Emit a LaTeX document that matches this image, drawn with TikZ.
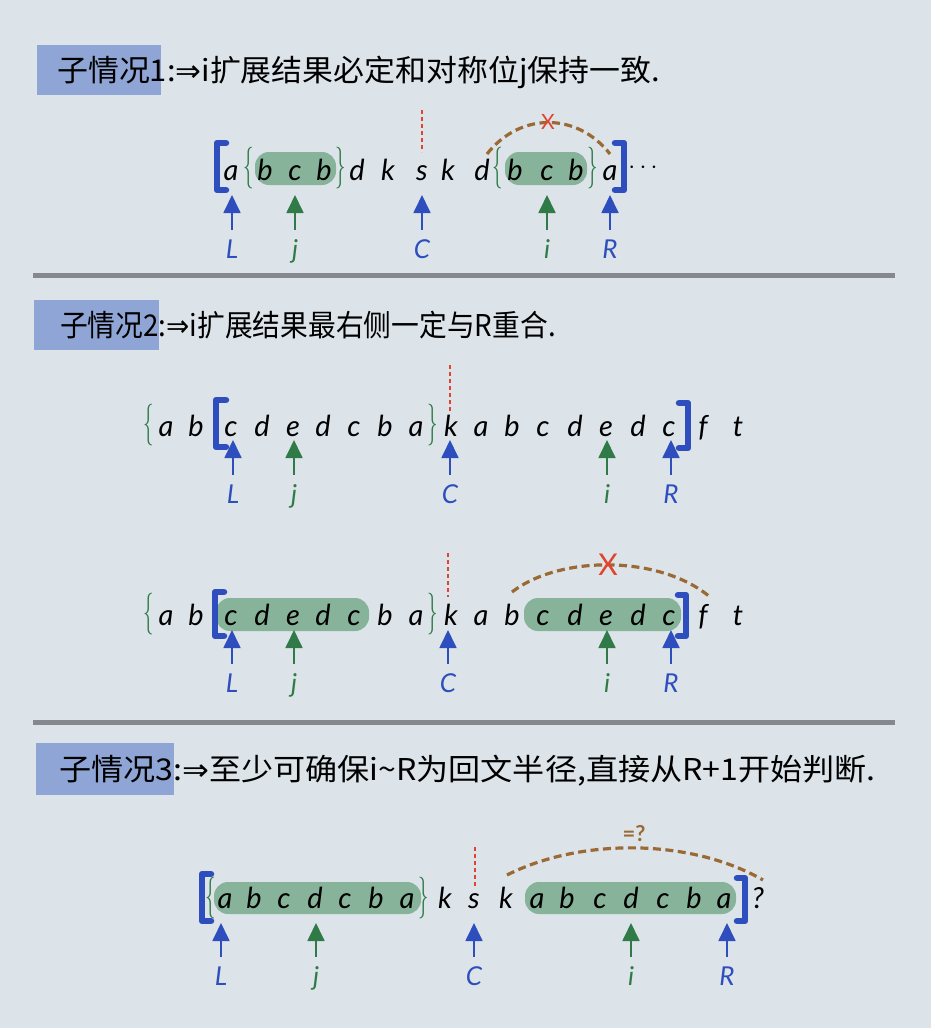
\documentclass[tikz,border=0pt]{standalone}
\usepackage{fontspec}
\newfontfamily\cjk{Noto Sans CJK SC}
\newfontfamily\hand{Lato}
\newfontfamily\dejavu{DejaVu Sans}
\usetikzlibrary{arrows.meta}
\definecolor{bgc}{HTML}{DCE4EA}
\definecolor{hdr}{HTML}{8FA5D5}
\definecolor{blu}{HTML}{2E4EBE}
\definecolor{grn}{HTML}{2F7A46}
\definecolor{hl}{HTML}{86B399}
\definecolor{brn}{HTML}{9B6A34}
\definecolor{redd}{HTML}{E2432E}
\definecolor{sep}{HTML}{85898D}
\begin{document}
\begin{tikzpicture}[x=1pt,y=-1pt,
  ch/.style={font=\hand\itshape\fontsize{29}{29}\selectfont, anchor=base, inner sep=0pt},
  lab/.style={font=\hand\itshape\fontsize{26}{26}\selectfont, anchor=base, inner sep=0pt, text height=18pt, text depth=0pt},
  barr/.style={blu, line width=1.8pt, shorten <=10pt, -{Triangle[width=17pt,length=18pt]}},
  garr/.style={grn, line width=1.8pt, shorten <=10pt, -{Triangle[width=17pt,length=18pt]}},
  brk/.style={blu, line width=6.5pt, line cap=round, line join=round},
  hlbox/.style={fill=hl, rounded corners=14pt},
  arcst/.style={brn, line width=3.2pt, dash pattern=on 8pt off 4.5pt},
  cdash/.style={redd, line width=1.6pt, dash pattern=on 4pt off 3pt},
  brace/.style={grn, font=\fontsize{38}{38}\selectfont, anchor=center, inner sep=0pt, xscale=0.55, yscale=1.1},
  htext/.style={font=\cjk\fontsize{30}{30}\selectfont, anchor=base west, inner sep=0pt},
  xmark/.style={redd, font=\hand\fontsize{#1}{#1}\selectfont, inner sep=0pt},
  sepl/.style={sep, line width=5pt}
]
\fill[bgc] (0,0) rectangle (931,1028);
\useasboundingbox (0,0) rectangle (931,1028);

% ---------- headers ----------
\fill[hdr] (37,45) rectangle (161,95);
\node[htext, xscale=1.03] (h1) at (57,81) {子情况1:{\dejavu ⇒}i扩展结果必定和对称位j保持一致.};
\fill[hdr] (34,300) rectangle (159,350);
\node[htext, xscale=0.925] (h2) at (60,336) {子情况2:{\dejavu ⇒}i扩展结果最右侧一定与R重合.};
\fill[hdr] (36,743) rectangle (174,795);
\node[htext, xscale=1.07] (h3) at (59,780) {子情况3:{\dejavu ⇒}至少可确保i\textasciitilde R为回文半径,直接从R+1开始判断.};

% ---------- separators ----------
\coordinate (s1a) at (33,275); \coordinate (s1b) at (895,275);
\coordinate (s2a) at (33,722); \coordinate (s2b) at (895,722);
\draw[sepl] (s1a) -- (s1b);
\draw[sepl] (s2a) -- (s2b);

% ================= Row 1 =================
\fill[hlbox] (255,152) rectangle (336,185);
\fill[hlbox] (505,152) rectangle (587,185);
\foreach \x/\c [count=\n] in {231/a,265/b,295/c,324/b,357/d,388/k,422/s,448/k,482/d,515/b,547/c,576/b,610/a}
  \node[ch] (ra\n) at (\x,180) {\c};
\node[font=\bfseries\fontsize{24}{24}\selectfont, inner sep=0pt] (radots) at (643,168) {$\cdots$};
\node[brace] (rab1) at (249,168) {\{};
\node[brace] (rab2) at (341,168) {\}};
\node[brace] (rab3) at (498,168) {\{};
\node[brace] (rab4) at (593,168) {\}};
\draw[brk] (226,143) -- (217,143) -- (217,190) -- (226,190);
\draw[brk] (615,143) -- (624,143) -- (624,190) -- (615,190);
\coordinate (ca1) at (422,110); \coordinate (ca2) at (422,152);
\draw[cdash] (ca1) -- (ca2);
\coordinate (aa1) at (487,154); \coordinate (aa2) at (610,154);
\draw[arcst] (aa1) .. controls (520,112) and (577,112) .. (aa2);
\node[xmark=21] (xa) at (548,122) {X};
% arrows row 1
\node[lab,blu] (laL) at (232,258) {L};
\node[lab,grn] (laj) at (295,258) {j};
\node[lab,blu] (laC) at (422,258) {C};
\node[lab,grn] (lai) at (547,258) {i};
\node[lab,blu] (laR) at (610,258) {R};
\coordinate (taL) at (232,195); \coordinate (taj) at (295,195);
\coordinate (taC) at (422,195); \coordinate (tai) at (547,195);
\coordinate (taR) at (610,195);
\draw[barr] (laL.north) -- (taL);
\draw[garr] (laj.north) -- (taj);
\draw[barr] (laC.north) -- (taC);
\draw[garr] (lai.north) -- (tai);
\draw[barr] (laR.north) -- (taR);

% ================= Row 2 =================
\foreach \x/\c [count=\n] in {166/a,196/b,231/c,262/d,293/e,323/d,354/c,385/b,416/a,451/k,481/a,512/b,543/c,575/d,606/e,638/d,669/c,703/f,738/t}
  \node[ch] (rb\n) at (\x,436) {\c};
\node[brace] (rbb1) at (149,425) {\{};
\node[brace] (rbb2) at (433,425) {\}};
\draw[brk] (226,400) -- (216,400) -- (216,447) -- (226,447);
\draw[brk] (679,403) -- (688,403) -- (688,448) -- (679,448);
\coordinate (cb1) at (450,365); \coordinate (cb2) at (450,412);
\draw[cdash] (cb1) -- (cb2);
\node[lab,blu] (lbL) at (233,503) {L};
\node[lab,grn] (lbj) at (294,503) {j};
\node[lab,blu] (lbC) at (450,503) {C};
\node[lab,grn] (lbi) at (607,503) {i};
\node[lab,blu] (lbR) at (671,503) {R};
\coordinate (tbL) at (233,440); \coordinate (tbj) at (294,440);
\coordinate (tbC) at (450,440); \coordinate (tbi) at (607,440);
\coordinate (tbR) at (671,440);
\draw[barr] (lbL.north) -- (tbL);
\draw[garr] (lbj.north) -- (tbj);
\draw[barr] (lbC.north) -- (tbC);
\draw[garr] (lbi.north) -- (tbi);
\draw[barr] (lbR.north) -- (tbR);

% ================= Row 3 =================
\fill[hlbox] (216,598) rectangle (369,631);
\fill[hlbox] (524,598) rectangle (681,631);
\foreach \x/\c [count=\n] in {166/a,196/b,231/c,262/d,293/e,323/d,354/c,385/b,416/a,451/k,481/a,512/b,543/c,575/d,606/e,638/d,669/c,703/f,738/t}
  \node[ch] (rc\n) at (\x,625) {\c};
\node[brace] (rcb1) at (149,614) {\{};
\node[brace] (rcb2) at (433,614) {\}};
\draw[brk] (224,592) -- (215,592) -- (215,636) -- (224,636);
\draw[brk] (678,595) -- (686,595) -- (686,636) -- (678,636);
\coordinate (cc1) at (448,553); \coordinate (cc2) at (448,597);
\draw[cdash] (cc1) -- (cc2);
\coordinate (ac1) at (512,592); \coordinate (ac2) at (710,597);
\draw[arcst] (ac1) .. controls (560,555) and (660,555) .. (ac2);
\node[xmark=30] (xc) at (608,565) {X};
\node[lab,blu] (lcL) at (232,692) {L};
\node[lab,grn] (lcj) at (294,692) {j};
\node[lab,blu] (lcC) at (448,692) {C};
\node[lab,grn] (lci) at (607,692) {i};
\node[lab,blu] (lcR) at (671,692) {R};
\coordinate (tcL) at (232,630); \coordinate (tcj) at (294,630);
\coordinate (tcC) at (448,630); \coordinate (tci) at (607,630);
\coordinate (tcR) at (671,630);
\draw[barr] (lcL.north) -- (tcL);
\draw[garr] (lcj.north) -- (tcj);
\draw[barr] (lcC.north) -- (tcC);
\draw[garr] (lci.north) -- (tci);
\draw[barr] (lcR.north) -- (tcR);

% ================= Row 4 =================
\fill[hlbox] (214,882) rectangle (421,914);
\fill[hlbox] (525,882) rectangle (736,914);
\foreach \x/\c [count=\n] in {225/a,254/b,284/c,315/d,345/c,376/b,407/a,445/k,474/s,506/k,537/a,567/b,600/c,631/d,663/c,694/b,724/a,758/?}
  \node[ch] (rd\n) at (\x,908) {\c};
\node[brace] (rdb1) at (211,898) {\{};
\node[brace] (rdb2) at (424,898) {\}};
\draw[brk] (211,874) -- (202,874) -- (202,921) -- (211,921);
\draw[brk] (737,878) -- (745,878) -- (745,921) -- (737,921);
\coordinate (cd1) at (475,847); \coordinate (cd2) at (475,888);
\draw[cdash] (cd1) -- (cd2);
\coordinate (ad1) at (507,875); \coordinate (ad2) at (763,880);
\draw[arcst] (ad1) .. controls (580,838) and (690,838) .. (ad2);
\node[brn, font=\hand\bfseries\fontsize{22}{22}\selectfont, inner sep=0pt] (eq) at (634,834) {=?};
\node[lab,blu] (ldL) at (221,985) {L};
\node[lab,grn] (ldj) at (316,985) {j};
\node[lab,blu] (ldC) at (474,985) {C};
\node[lab,grn] (ldi) at (631,985) {i};
\node[lab,blu] (ldR) at (727,985) {R};
\coordinate (tdL) at (221,923); \coordinate (tdj) at (316,923);
\coordinate (tdC) at (474,923); \coordinate (tdi) at (631,923);
\coordinate (tdR) at (727,923);
\draw[barr] (ldL.north) -- (tdL);
\draw[garr] (ldj.north) -- (tdj);
\draw[barr] (ldC.north) -- (tdC);
\draw[garr] (ldi.north) -- (tdi);
\draw[barr] (ldR.north) -- (tdR);
\end{tikzpicture}
\end{document}
